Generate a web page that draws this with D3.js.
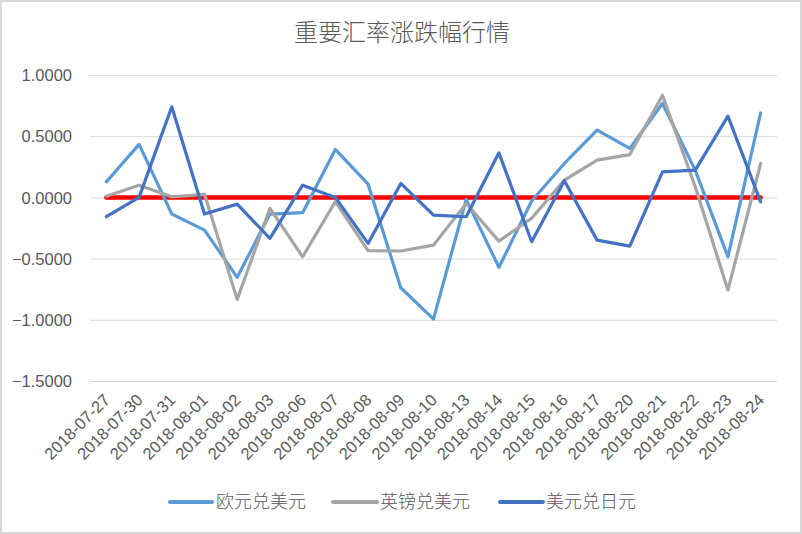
<!DOCTYPE html>
<html>
<head>
<meta charset="utf-8">
<script src="https://cdn.jsdelivr.net/npm/d3@7"></script>
<style>
  html, body { margin: 0; padding: 0; background: #fff; }
  svg { display: block; }
</style>
</head>
<body>
<svg id="chart" width="802" height="534"></svg>
<script>
const dates = ["2018-07-27","2018-07-30","2018-07-31","2018-08-01","2018-08-02","2018-08-03","2018-08-06","2018-08-07","2018-08-08","2018-08-09","2018-08-10","2018-08-13","2018-08-14","2018-08-15","2018-08-16","2018-08-17","2018-08-20","2018-08-21","2018-08-22","2018-08-23","2018-08-24"];
const eurUsd = [0.127, 0.433, -0.136, -0.267, -0.653, -0.136, -0.125, 0.392, 0.108, -0.738, -0.994, -0.016, -0.571, -0.03, 0.277, 0.549, 0.400, 0.767, 0.223, -0.485, 0.690];
const gbpUsd = [0.010, 0.100, 0.005, 0.025, -0.833, -0.090, -0.485, -0.035, -0.435, -0.438, -0.390, -0.050, -0.357, -0.170, 0.141, 0.304, 0.350, 0.835, 0.087, -0.757, 0.277];
const usdJpy = [-0.158, 0.000, 0.740, -0.136, -0.055, -0.335, 0.100, 0.000, -0.376, 0.114, -0.145, -0.158, 0.364, -0.362, 0.136, -0.349, -0.398, 0.209, 0.223, 0.664, -0.036];
const zeroLine = dates.map(() => 0);
const yTicks = [1.0, 0.5, 0.0, -0.5, -1.0, -1.5];
const seriesNames = ["欧元兑美元", "英镑兑美元", "美元兑日元"];
const seriesColors = ["#5B9BD5", "#A5A5A5", "#4472C4"];
const title = "重要汇率涨跌幅行情";

const svg = d3.select("#chart");
const textColor = "#595959";
const numFont = "'Liberation Sans', Arial, sans-serif";
const cjkFont = "'Noto Sans CJK SC', sans-serif";

// outer border
svg.append("rect").attr("x", 1).attr("y", 1).attr("width", 800).attr("height", 532)
  .attr("fill", "#fff").attr("stroke", "#D9D9D9").attr("stroke-width", 2);

const plotLeft = 90, plotRight = 777, plotTop = 75, plotBottom = 381;

const x = d3.scaleBand().domain(dates).range([plotLeft, plotRight]).padding(0);
const cx = d => x(d) + x.bandwidth() / 2;
const y = d3.scaleLinear().domain([-1.5, 1]).range([plotBottom, plotTop]);

// title
svg.append("text").attr("x", 402).attr("y", 41).attr("text-anchor", "middle")
  .attr("font-family", cjkFont).attr("font-size", 24).attr("font-weight", 300)
  .attr("fill", textColor).text(title);

// y axis with gridlines
const yAxis = svg.append("g").attr("transform", `translate(${plotLeft},0)`)
  .call(d3.axisLeft(y).tickValues(yTicks).tickFormat(d3.format(".4f"))
    .tickSize(-(plotRight - plotLeft)).tickPadding(18));
yAxis.select(".domain").remove();
yAxis.selectAll(".tick line").attr("stroke", "#D9D9D9").attr("stroke-width", 1);
yAxis.selectAll(".tick text").attr("font-family", numFont).attr("font-size", 16.5)
  .attr("fill", textColor).attr("dy", "0.35em");

// x axis labels
const xAxis = svg.append("g").attr("transform", `translate(0,401)`)
  .call(d3.axisBottom(x).tickSize(0).tickPadding(0));
xAxis.select(".domain").remove();
xAxis.selectAll(".tick text")
  .attr("font-family", numFont).attr("font-size", 16.5).attr("fill", textColor)
  .attr("text-anchor", "end").attr("x", 0).attr("y", 0).attr("dy", 0)
  .attr("transform", "translate(4.6,0) rotate(-45)");

const line = d3.line().x((d, i) => cx(dates[i])).y(d => y(d));

// zero reference line (red)
svg.append("path").datum(zeroLine).attr("d", line)
  .attr("fill", "none").attr("stroke", "#FF0000").attr("stroke-width", 4.5)
  .attr("stroke-linecap", "round");

const allSeries = [eurUsd, gbpUsd, usdJpy];
allSeries.forEach((s, k) => {
  svg.append("path").datum(s).attr("d", line)
    .attr("fill", "none").attr("stroke", seriesColors[k]).attr("stroke-width", 3.2)
    .attr("stroke-linejoin", "round").attr("stroke-linecap", "round");
});

// legend
const legendItems = [
  { x1: 170, x2: 212, tx: 216 },
  { x1: 333, x2: 377, tx: 380 },
  { x1: 500, x2: 543, tx: 546 }
];
const legendY = 502;
legendItems.forEach((it, k) => {
  svg.append("line").attr("x1", it.x1).attr("x2", it.x2).attr("y1", legendY).attr("y2", legendY)
    .attr("stroke", seriesColors[k]).attr("stroke-width", 4).attr("stroke-linecap", "round");
  svg.append("text").attr("x", it.tx).attr("y", legendY).attr("dy", "0.35em")
    .attr("font-family", cjkFont).attr("font-size", 18).attr("font-weight", 300)
    .attr("fill", textColor).text(seriesNames[k]);
});
</script>
</body>
</html>
